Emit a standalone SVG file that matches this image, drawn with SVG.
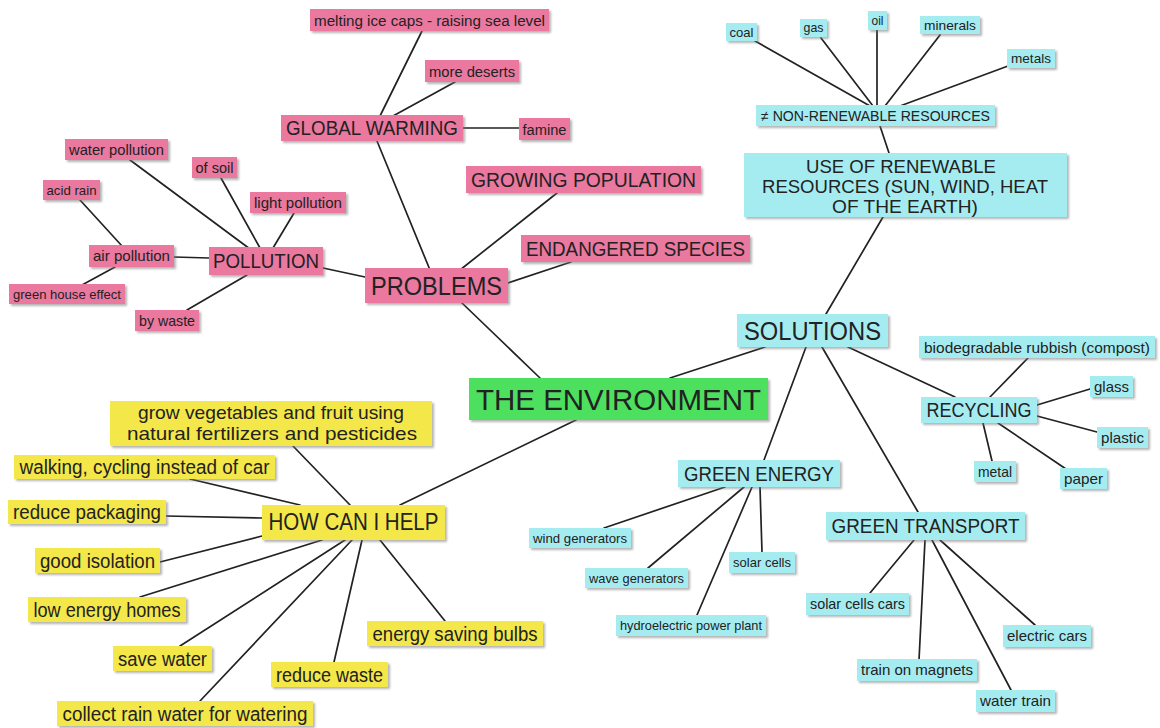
<svg xmlns="http://www.w3.org/2000/svg" width="1160" height="728" viewBox="0 0 1160 728">
<defs>
<filter id="sh" x="-10%" y="-20%" width="130%" height="160%">
<feDropShadow dx="2" dy="2" stdDeviation="1" flood-color="#777" flood-opacity="0.55"/>
</filter>
<style>
.bg{fill:#ffffff}
rect.n{filter:url(#sh)}
.pk{fill:#EA789F}
.cy{fill:#A5ECF1}
.yl{fill:#F4E74A}
.gr{fill:#4EE05E}
text{font-family:"Liberation Sans",Arial,sans-serif;fill:#222;text-anchor:middle}
.ln line{stroke:#222;stroke-width:1.7;stroke-linecap:round}
</style>
</defs>
<rect class="bg" x="0" y="0" width="1160" height="728"/>
<g id="connectors" class="ln">
<line x1="422" y1="31" x2="380" y2="116"/>
<line x1="455" y1="82" x2="393" y2="116"/>
<line x1="462" y1="128" x2="519" y2="128"/>
<line x1="377" y1="141" x2="430" y2="270"/>
<line x1="557" y1="193" x2="460" y2="270"/>
<line x1="571" y1="262" x2="508" y2="283"/>
<line x1="323" y1="268" x2="365" y2="277"/>
<line x1="462" y1="303" x2="540" y2="378"/>
<line x1="130" y1="160" x2="250" y2="249"/>
<line x1="221" y1="178" x2="260" y2="248"/>
<line x1="294" y1="213" x2="273" y2="248"/>
<line x1="80" y1="200" x2="122" y2="246"/>
<line x1="174" y1="257" x2="209" y2="258"/>
<line x1="115" y1="267" x2="82" y2="285"/>
<line x1="247" y1="275" x2="187" y2="310"/>
<line x1="755" y1="41" x2="870" y2="106"/>
<line x1="821" y1="38" x2="873" y2="106"/>
<line x1="877" y1="30" x2="877" y2="106"/>
<line x1="940" y1="35" x2="885" y2="106"/>
<line x1="1008" y1="66" x2="900" y2="106"/>
<line x1="880" y1="126" x2="889" y2="153"/>
<line x1="883" y1="217" x2="826" y2="314"/>
<line x1="765" y1="347" x2="670" y2="378"/>
<line x1="806" y1="347" x2="764" y2="460"/>
<line x1="822" y1="347" x2="918" y2="512"/>
<line x1="848" y1="347" x2="955" y2="397"/>
<line x1="1028" y1="358" x2="990" y2="397"/>
<line x1="1037" y1="405" x2="1090" y2="389"/>
<line x1="1037" y1="416" x2="1097" y2="432"/>
<line x1="983" y1="423" x2="992" y2="461"/>
<line x1="998" y1="423" x2="1066" y2="469"/>
<line x1="725" y1="487" x2="604" y2="528"/>
<line x1="744" y1="487" x2="648" y2="568"/>
<line x1="752" y1="487" x2="697" y2="615"/>
<line x1="760" y1="487" x2="762" y2="552"/>
<line x1="914" y1="540" x2="870" y2="593"/>
<line x1="925" y1="540" x2="919" y2="660"/>
<line x1="932" y1="540" x2="1011" y2="690"/>
<line x1="940" y1="540" x2="1035" y2="625"/>
<line x1="576" y1="420" x2="400" y2="505"/>
<line x1="293" y1="446" x2="350" y2="505"/>
<line x1="190" y1="479" x2="300" y2="505"/>
<line x1="166" y1="516" x2="262" y2="518"/>
<line x1="160" y1="562" x2="262" y2="536"/>
<line x1="140" y1="597" x2="322" y2="540"/>
<line x1="180" y1="646" x2="345" y2="540"/>
<line x1="200" y1="701" x2="352" y2="540"/>
<line x1="334" y1="662" x2="362" y2="540"/>
<line x1="445" y1="621" x2="380" y2="540"/>
</g>

<g id="p-melting"><rect class="n pk" x="310" y="9" width="239" height="22"/><text x="429.5" y="25.6" font-size="15.5" textLength="231" lengthAdjust="spacingAndGlyphs">melting ice caps - raising sea level</text></g>
<g id="p-deserts"><rect class="n pk" x="425" y="60" width="94" height="22"/><text x="472" y="76.6" font-size="15.5" textLength="86" lengthAdjust="spacingAndGlyphs">more deserts</text></g>
<g id="p-global-warming"><rect class="n pk" x="281" y="115" width="182" height="26"/><text x="372" y="135.2" font-size="20" textLength="172" lengthAdjust="spacingAndGlyphs">GLOBAL WARMING</text></g>
<g id="p-famine"><rect class="n pk" x="519" y="118" width="51" height="22"/><text x="544.5" y="134.6" font-size="15.5" textLength="44" lengthAdjust="spacingAndGlyphs">famine</text></g>
<g id="p-growing"><rect class="n pk" x="466" y="166" width="235" height="27"/><text x="583.5" y="186.7" font-size="20" textLength="225" lengthAdjust="spacingAndGlyphs">GROWING POPULATION</text></g>
<g id="p-endangered"><rect class="n pk" x="521" y="235" width="229" height="27"/><text x="635.5" y="255.7" font-size="20" textLength="219" lengthAdjust="spacingAndGlyphs">ENDANGERED SPECIES</text></g>
<g id="p-problems"><rect class="n pk" x="365" y="268" width="143" height="35"/><text x="436.5" y="294.5" font-size="25" textLength="131" lengthAdjust="spacingAndGlyphs">PROBLEMS</text></g>
<g id="p-pollution"><rect class="n pk" x="209" y="247" width="114" height="28"/><text x="266" y="268.2" font-size="20" textLength="106" lengthAdjust="spacingAndGlyphs">POLLUTION</text></g>
<g id="p-water"><rect class="n pk" x="65" y="139" width="103" height="21"/><text x="116.5" y="154.7" font-size="14.5" textLength="95" lengthAdjust="spacingAndGlyphs">water pollution</text></g>
<g id="p-soil"><rect class="n pk" x="192" y="157" width="45" height="21"/><text x="214.5" y="172.7" font-size="14.5" textLength="38" lengthAdjust="spacingAndGlyphs">of soil</text></g>
<g id="p-light"><rect class="n pk" x="250" y="192" width="96" height="21"/><text x="298" y="207.7" font-size="14.5" textLength="88" lengthAdjust="spacingAndGlyphs">light pollution</text></g>
<g id="p-acid"><rect class="n pk" x="43" y="180" width="57" height="20"/><text x="71.5" y="194.9" font-size="13.5" textLength="50" lengthAdjust="spacingAndGlyphs">acid rain</text></g>
<g id="p-air"><rect class="n pk" x="89" y="245" width="85" height="22"/><text x="131.5" y="261.2" font-size="14.5" textLength="77" lengthAdjust="spacingAndGlyphs">air pollution</text></g>
<g id="p-greenhouse"><rect class="n pk" x="9" y="284" width="116" height="20"/><text x="67" y="298.9" font-size="13.5" textLength="108" lengthAdjust="spacingAndGlyphs">green house effect</text></g>
<g id="p-waste"><rect class="n pk" x="135" y="310" width="64" height="21"/><text x="167" y="325.7" font-size="14.5" textLength="56" lengthAdjust="spacingAndGlyphs">by waste</text></g>

<g id="environment"><rect class="n gr" x="469" y="378" width="299" height="42"/><text x="618.5" y="409.5" font-size="30" textLength="285" lengthAdjust="spacingAndGlyphs">THE ENVIRONMENT</text></g>

<g id="c-coal"><rect class="n cy" x="726" y="23" width="31" height="18"/><text x="741.5" y="36.5" font-size="13.5" textLength="24" lengthAdjust="spacingAndGlyphs">coal</text></g>
<g id="c-gas"><rect class="n cy" x="800" y="19" width="27" height="18"/><text x="813.5" y="32" font-size="13.5" textLength="20" lengthAdjust="spacingAndGlyphs">gas</text></g>
<g id="c-oil"><rect class="n cy" x="868" y="11" width="19" height="19"/><text x="877.5" y="25" font-size="13.5" textLength="12" lengthAdjust="spacingAndGlyphs">oil</text></g>
<g id="c-minerals"><rect class="n cy" x="920" y="16" width="60" height="18"/><text x="950" y="29.5" font-size="13.5" textLength="52" lengthAdjust="spacingAndGlyphs">minerals</text></g>
<g id="c-metals"><rect class="n cy" x="1007" y="49" width="48" height="19"/><text x="1031" y="63" font-size="13.5" textLength="40" lengthAdjust="spacingAndGlyphs">metals</text></g>
<g id="c-nonrenewable"><rect class="n cy" x="756" y="105" width="239" height="21"/><text x="875.5" y="120.7" font-size="14.5" textLength="229" lengthAdjust="spacingAndGlyphs">≠ NON-RENEWABLE RESOURCES</text></g>
<g id="c-renewable"><rect class="n cy" x="744" y="153" width="323" height="64"/>
<text x="901" y="172.5" font-size="19" textLength="190" lengthAdjust="spacingAndGlyphs">USE OF RENEWABLE</text>
<text x="905" y="192.5" font-size="19" textLength="286" lengthAdjust="spacingAndGlyphs">RESOURCES (SUN, WIND, HEAT</text>
<text x="905" y="212.5" font-size="19" textLength="146" lengthAdjust="spacingAndGlyphs">OF THE EARTH)</text></g>
<g id="c-solutions"><rect class="n cy" x="737" y="314" width="151" height="33"/><text x="812.5" y="339.5" font-size="25" textLength="137" lengthAdjust="spacingAndGlyphs">SOLUTIONS</text></g>
<g id="c-biodegradable"><rect class="n cy" x="919" y="336" width="236" height="22"/><text x="1037" y="352.6" font-size="15.5" textLength="226" lengthAdjust="spacingAndGlyphs">biodegradable rubbish (compost)</text></g>
<g id="c-glass"><rect class="n cy" x="1090" y="376" width="43" height="21"/><text x="1111.5" y="391.7" font-size="14.5" textLength="35" lengthAdjust="spacingAndGlyphs">glass</text></g>
<g id="c-recycling"><rect class="n cy" x="921" y="397" width="116" height="26"/><text x="979" y="417.2" font-size="20" textLength="105" lengthAdjust="spacingAndGlyphs">RECYCLING</text></g>
<g id="c-plastic"><rect class="n cy" x="1097" y="427" width="51" height="21"/><text x="1122.5" y="442.7" font-size="14.5" textLength="43" lengthAdjust="spacingAndGlyphs">plastic</text></g>
<g id="c-metal"><rect class="n cy" x="974" y="461" width="42" height="21"/><text x="995" y="476.7" font-size="14.5" textLength="34" lengthAdjust="spacingAndGlyphs">metal</text></g>
<g id="c-paper"><rect class="n cy" x="1060" y="468" width="47" height="21"/><text x="1083.5" y="483.7" font-size="14.5" textLength="39" lengthAdjust="spacingAndGlyphs">paper</text></g>
<g id="c-green-energy"><rect class="n cy" x="678" y="460" width="162" height="27"/><text x="759" y="480.7" font-size="20" textLength="150" lengthAdjust="spacingAndGlyphs">GREEN ENERGY</text></g>
<g id="c-wind"><rect class="n cy" x="529" y="528" width="102" height="20"/><text x="580" y="542.9" font-size="13.5" textLength="94" lengthAdjust="spacingAndGlyphs">wind generators</text></g>
<g id="c-wave"><rect class="n cy" x="585" y="568" width="103" height="20"/><text x="636.5" y="582.9" font-size="13.5" textLength="95" lengthAdjust="spacingAndGlyphs">wave generators</text></g>
<g id="c-solar"><rect class="n cy" x="729" y="552" width="66" height="21"/><text x="762" y="567.4" font-size="13.5" textLength="58" lengthAdjust="spacingAndGlyphs">solar cells</text></g>
<g id="c-hydro"><rect class="n cy" x="616" y="615" width="150" height="21"/><text x="691" y="630.4" font-size="13.5" textLength="142" lengthAdjust="spacingAndGlyphs">hydroelectric power plant</text></g>
<g id="c-green-transport"><rect class="n cy" x="826" y="512" width="199" height="28"/><text x="925.5" y="533.2" font-size="20" textLength="188" lengthAdjust="spacingAndGlyphs">GREEN TRANSPORT</text></g>
<g id="c-solar-cars"><rect class="n cy" x="806" y="593" width="103" height="22"/><text x="857.5" y="609.2" font-size="14.5" textLength="95" lengthAdjust="spacingAndGlyphs">solar cells cars</text></g>
<g id="c-electric"><rect class="n cy" x="1003" y="625" width="88" height="22"/><text x="1047" y="641.2" font-size="14.5" textLength="80" lengthAdjust="spacingAndGlyphs">electric cars</text></g>
<g id="c-magnets"><rect class="n cy" x="857" y="659" width="120" height="22"/><text x="917" y="675.2" font-size="14.5" textLength="112" lengthAdjust="spacingAndGlyphs">train on magnets</text></g>
<g id="c-water-train"><rect class="n cy" x="976" y="690" width="79" height="22"/><text x="1015.5" y="706.2" font-size="14.5" textLength="71" lengthAdjust="spacingAndGlyphs">water train</text></g>

<g id="y-grow"><rect class="n yl" x="110" y="401" width="322" height="45"/>
<text x="271" y="419" font-size="19" textLength="266" lengthAdjust="spacingAndGlyphs">grow vegetables and fruit using</text>
<text x="272" y="440" font-size="19" textLength="290" lengthAdjust="spacingAndGlyphs">natural fertilizers and pesticides</text></g>
<g id="y-walking"><rect class="n yl" x="14" y="455" width="261" height="24"/><text x="144.5" y="474" font-size="19.5" textLength="250" lengthAdjust="spacingAndGlyphs">walking, cycling instead of car</text></g>
<g id="y-packaging"><rect class="n yl" x="8" y="500" width="158" height="24"/><text x="87" y="519" font-size="19.5" textLength="148" lengthAdjust="spacingAndGlyphs">reduce packaging</text></g>
<g id="y-isolation"><rect class="n yl" x="35" y="548" width="125" height="25"/><text x="97.5" y="567.5" font-size="19.5" textLength="115" lengthAdjust="spacingAndGlyphs">good isolation</text></g>
<g id="y-how"><rect class="n yl" x="262" y="505" width="183" height="35"/><text x="353.5" y="530" font-size="24" textLength="170" lengthAdjust="spacingAndGlyphs">HOW CAN I HELP</text></g>
<g id="y-low-energy"><rect class="n yl" x="28" y="597" width="158" height="25"/><text x="107" y="616.5" font-size="19.5" textLength="147" lengthAdjust="spacingAndGlyphs">low energy homes</text></g>
<g id="y-save-water"><rect class="n yl" x="113" y="646" width="99" height="25"/><text x="162.5" y="665.5" font-size="19.5" textLength="89" lengthAdjust="spacingAndGlyphs">save water</text></g>
<g id="y-bulbs"><rect class="n yl" x="367" y="621" width="176" height="25"/><text x="455" y="640.5" font-size="19.5" textLength="165" lengthAdjust="spacingAndGlyphs">energy saving bulbs</text></g>
<g id="y-reduce-waste"><rect class="n yl" x="271" y="662" width="117" height="25"/><text x="329.5" y="681.5" font-size="19.5" textLength="107" lengthAdjust="spacingAndGlyphs">reduce waste</text></g>
<g id="y-collect"><rect class="n yl" x="57" y="701" width="256" height="25"/><text x="185" y="720.5" font-size="19.5" textLength="245" lengthAdjust="spacingAndGlyphs">collect rain water for watering</text></g>
</svg>
